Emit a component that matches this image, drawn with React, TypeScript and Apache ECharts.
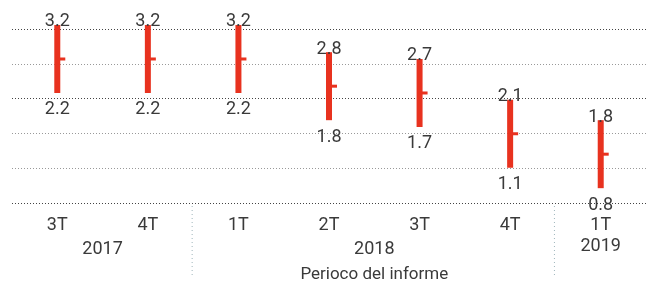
import React, { useEffect, useRef } from "react";
import * as echarts from "echarts";

const categories = ["3T", "4T", "1T", "2T", "3T", "4T", "1T"];
const lowValues = [2.2, 2.2, 2.2, 1.8, 1.7, 1.1, 0.8];
const highValues = [3.2, 3.2, 3.2, 2.8, 2.7, 2.1, 1.8];
const yearGroups = [
  { year: "2017", from: 0, to: 1 },
  { year: "2018", from: 2, to: 5 },
  { year: "2019", from: 6, to: 6 },
];
const axisTitle = "Perioco del informe";

const FONT = "'Liberation Sans Narrow', 'Roboto', sans-serif";
const TEXT = "#3a3a3a";
const RED = "#e8321f";

export default function App() {
  const ref = useRef<HTMLDivElement>(null);
  useEffect(() => {
    if (!ref.current) return;
    const chart = echarts.init(ref.current, undefined, { renderer: "svg" });
    const data = categories.map((_, i) => [i, lowValues[i], highValues[i]]);
    chart.setOption({
      animation: false,
      grid: { left: 12, width: 642, top: 29, bottom: 82 },
      xAxis: {
        type: "category",
        data: categories,
        axisLine: { show: false },
        axisTick: { show: false },
        splitLine: { show: false },
        axisLabel: { color: TEXT, fontFamily: FONT, fontSize: 18, margin: 11 },
      },
      yAxis: [
        {
          type: "value",
          min: 0.582,
          max: 3.141,
          show: false,
          splitLine: { show: false },
        },
        {
          type: "value",
          min: 0,
          max: 5,
          interval: 1,
          axisLabel: { show: false },
          axisLine: { show: false },
          axisTick: { show: false },
          splitLine: {
            show: true,
            lineStyle: {
              type: [1, 2],
              width: 1,
              color: ["#444", "#999", "#999", "#444", "#999", "#444"],
            },
          },
        },
      ],
      series: [
        {
          type: "custom",
          yAxisIndex: 0,
          clip: false,
          data,
          renderItem: (params: any, api: any) => {
            const x = api.value(0);
            const lo = api.value(1);
            const hi = api.value(2);
            const pHi = api.coord([x, hi]);
            const pLo = api.coord([x, lo]);
            const pMid = api.coord([x, (lo + hi) / 2]);
            return {
              type: "group",
              children: [
                {
                  type: "rect",
                  shape: { x: pHi[0] - 3, y: pHi[1], width: 6, height: pLo[1] - pHi[1] },
                  style: { fill: RED },
                },
                {
                  type: "rect",
                  shape: { x: pMid[0], y: pMid[1] - 1.5, width: 8, height: 3 },
                  style: { fill: RED },
                },
                {
                  type: "text",
                  x: pHi[0],
                  y: pHi[1] + 4,
                  style: {
                    text: hi.toFixed(1),
                    fill: TEXT,
                    font: `18px ${FONT}`,
                    align: "center",
                    verticalAlign: "bottom",
                  },
                },
                {
                  type: "text",
                  x: pLo[0],
                  y: pLo[1] + 6,
                  style: {
                    text: lo.toFixed(1),
                    fill: TEXT,
                    font: `18px ${FONT}`,
                    align: "center",
                    verticalAlign: "top",
                  },
                },
              ],
            };
          },
        },
      ],
    });

    const px = (i: number) => chart.convertToPixel({ xAxisIndex: 0 }, i) as number;
    const graphics: any[] = [];
    yearGroups.forEach((g, gi) => {
      const cx = (px(g.from) + px(g.to)) / 2;
      graphics.push({
        type: "text",
        x: cx,
        y: g.from === g.to ? 244 : 247,
        style: {
          text: g.year,
          fill: TEXT,
          font: `18px ${FONT}`,
          align: "center",
          verticalAlign: "middle",
        },
      });
      if (gi > 0) {
        const dx = (px(g.from - 1) + px(g.from)) / 2 - 1;
        graphics.push({
          type: "line",
          shape: { x1: dx, y1: 206, x2: dx, y2: 278 },
          style: { stroke: "#9fb5bb", lineWidth: 1, lineDash: [1, 3] },
        });
      }
    });
    graphics.push({
      type: "text",
      x: (px(2) + px(5)) / 2,
      y: 273,
      style: {
        text: axisTitle,
        fill: TEXT,
        font: `17px ${FONT}`,
        align: "center",
        verticalAlign: "middle",
      },
    });
    chart.setOption({ graphic: graphics });

    return () => chart.dispose();
  }, []);
  return (
    <div
      ref={ref}
      style={{ position: "fixed", left: 0, top: 0, width: 646, height: 285 }}
    />
  );
}
